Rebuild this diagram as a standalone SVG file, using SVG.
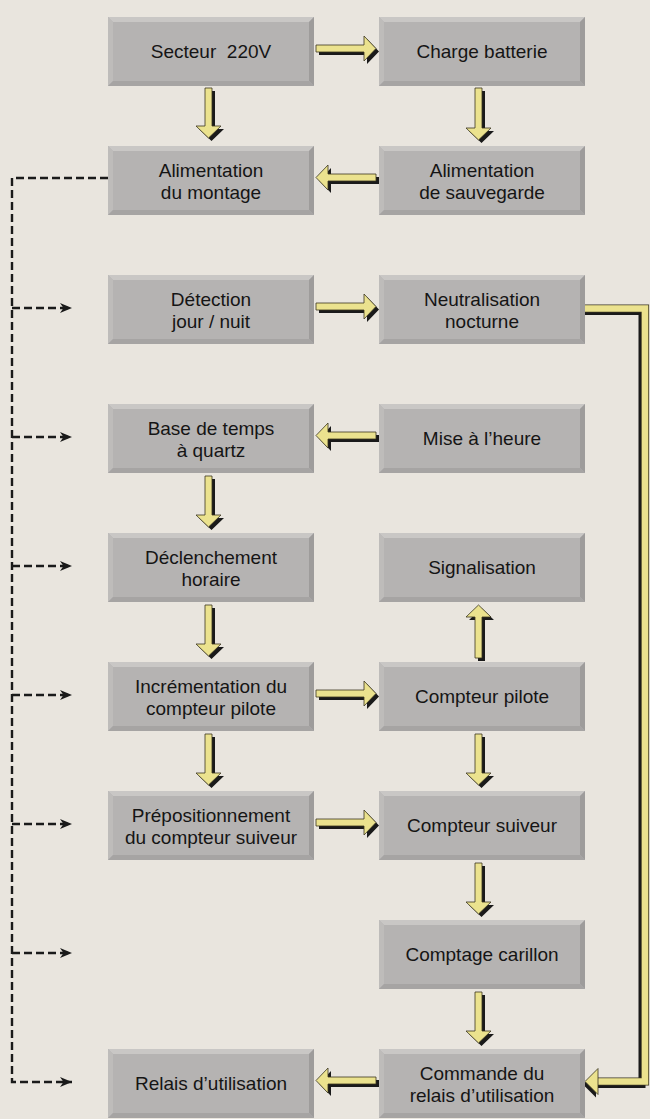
<svg xmlns="http://www.w3.org/2000/svg" xmlns:xlink="http://www.w3.org/1999/xlink" width="650" height="1119" viewBox="0 0 650 1119">
<style>
.t{font-family:"Liberation Sans",Arial,sans-serif;font-size:19px;fill:#151515;text-anchor:middle;white-space:pre}
.sh{fill:#1a1a1a}
.ar{fill:#ebe28e;stroke:#3a3520;stroke-width:0.8;stroke-linejoin:miter}
.dash{fill:none;stroke:#1a1a1a;stroke-width:2.4;stroke-dasharray:8 4}
</style>
<defs>
<marker id="dh" markerUnits="userSpaceOnUse" markerWidth="12" markerHeight="10" refX="12" refY="5" orient="auto">
<path d="M0,0 L12,5 L0,10 L3.5,5 Z" fill="#1a1a1a"/>
</marker>
<symbol id="box" viewBox="0 0 206 69" width="206" height="69">
<rect x="0" y="0" width="206" height="69" fill="#b5b3b2"/>
<polygon points="0,0 206,0 201,5 5,5" fill="#c9c7c5"/>
<polygon points="0,0 5,5 5,64 0,69" fill="#bebcba"/>
<polygon points="206,0 206,69 201,64 201,5" fill="#9e9c9b"/>
<polygon points="0,69 5,64 201,64 206,69" fill="#a6a4a3"/>
</symbol>
<polygon id="r1" points="316,45 364,45 364,36 376,48.5 364,61 364,52 316,52"/>
<polygon id="r3" points="316,303 364,303 364,294 376,306.5 364,319 364,310 316,310"/>
<polygon id="r6" points="316,690 364,690 364,681 376,693.5 364,706 364,697 316,697"/>
<polygon id="r7" points="316,819 364,819 364,810 376,822.5 364,835 364,826 316,826"/>
<polygon id="l2" points="376,174 328,174 328,165 316,177.5 328,190 328,181 376,181"/>
<polygon id="l4" points="376,432 328,432 328,423 316,435.5 328,448 328,439 376,439"/>
<polygon id="l9" points="376,1077 328,1077 328,1068 316,1080.5 328,1093 328,1084 376,1084"/>
<polygon id="d1" points="205,88 212,88 212,126 221,126 208.5,138 196,126 205,126"/>
<polygon id="d2" points="205,476 212,476 212,515 221,515 208.5,527 196,515 205,515"/>
<polygon id="d3" points="205,605 212,605 212,644 221,644 208.5,656 196,644 205,644"/>
<polygon id="d4" points="205,734 212,734 212,773 221,773 208.5,785 196,773 205,773"/>
<polygon id="d5" points="475,88 482,88 482,128 491,128 478.5,140 466,128 475,128"/>
<polygon id="d6" points="475,734 482,734 482,773 491,773 478.5,785 466,773 475,773"/>
<polygon id="d7" points="475,863 482,863 482,902 491,902 478.5,914 466,902 475,902"/>
<polygon id="d8" points="475,992 482,992 482,1031 491,1031 478.5,1043 466,1031 475,1031"/>
<polygon id="u1" points="475,658 482,658 482,617 491,617 478.5,605 466,617 475,617"/>
<polygon id="lh" points="585,1081.5 598,1068.5 598,1094.5"/>
</defs>
<rect x="0" y="0" width="650" height="1119" fill="#e9e5de"/>

<g id="connectors">
<g id="power-dashed">
<path class="dash" d="M108,178 H12 V1082 H72" marker-end="url(#dh)"/>
<path class="dash" d="M12,308 H72" marker-end="url(#dh)"/>
<path class="dash" d="M12,437 H72" marker-end="url(#dh)"/>
<path class="dash" d="M12,566 H72" marker-end="url(#dh)"/>
<path class="dash" d="M12,695 H72" marker-end="url(#dh)"/>
<path class="dash" d="M12,824 H72" marker-end="url(#dh)"/>
<path class="dash" d="M12,953 H72" marker-end="url(#dh)"/>
</g>
<g id="loop">
<path d="M585,311.5 H642 V1084.5 H598" fill="none" stroke="#1a1a1a" stroke-width="7" stroke-linejoin="miter"/>
<path d="M585,308.5 H645 V1081.5 H598" fill="none" stroke="#3a3520" stroke-width="8.2" stroke-linejoin="miter"/>
<path d="M585,308.5 H645 V1081.5 H597" fill="none" stroke="#ebe28e" stroke-width="6.6" stroke-linejoin="miter"/>
<use xlink:href="#lh" class="sh" transform="translate(-2,3)"/>
<use xlink:href="#lh" class="ar"/>
</g>
<g id="arrows">
<use xlink:href="#r1" class="sh" transform="translate(3,3)"/><use xlink:href="#r1" class="ar"/>
<use xlink:href="#r3" class="sh" transform="translate(3,3)"/><use xlink:href="#r3" class="ar"/>
<use xlink:href="#r6" class="sh" transform="translate(3,3)"/><use xlink:href="#r6" class="ar"/>
<use xlink:href="#r7" class="sh" transform="translate(3,3)"/><use xlink:href="#r7" class="ar"/>
<use xlink:href="#l2" class="sh" transform="translate(3,3)"/><use xlink:href="#l2" class="ar"/>
<use xlink:href="#l4" class="sh" transform="translate(3,3)"/><use xlink:href="#l4" class="ar"/>
<use xlink:href="#l9" class="sh" transform="translate(3,3)"/><use xlink:href="#l9" class="ar"/>
<use xlink:href="#d1" class="sh" transform="translate(3,3)"/><use xlink:href="#d1" class="ar"/>
<use xlink:href="#d2" class="sh" transform="translate(3,3)"/><use xlink:href="#d2" class="ar"/>
<use xlink:href="#d3" class="sh" transform="translate(3,3)"/><use xlink:href="#d3" class="ar"/>
<use xlink:href="#d4" class="sh" transform="translate(3,3)"/><use xlink:href="#d4" class="ar"/>
<use xlink:href="#d5" class="sh" transform="translate(3,3)"/><use xlink:href="#d5" class="ar"/>
<use xlink:href="#d6" class="sh" transform="translate(3,3)"/><use xlink:href="#d6" class="ar"/>
<use xlink:href="#d7" class="sh" transform="translate(3,3)"/><use xlink:href="#d7" class="ar"/>
<use xlink:href="#d8" class="sh" transform="translate(3,3)"/><use xlink:href="#d8" class="ar"/>
<use xlink:href="#u1" class="sh" transform="translate(3,3)"/><use xlink:href="#u1" class="ar"/>
</g>
</g>

<g id="secteur"><use xlink:href="#box" x="108" y="17"/><text class="t" x="211" y="58" xml:space="preserve">Secteur  220V</text></g>
<g id="charge"><use xlink:href="#box" x="379" y="17"/><text class="t" x="482" y="58">Charge batterie</text></g>
<g id="alim-montage"><use xlink:href="#box" x="108" y="146"/><text class="t" x="211" y="177">Alimentation</text><text class="t" x="211" y="199">du montage</text></g>
<g id="alim-sauvegarde"><use xlink:href="#box" x="379" y="146"/><text class="t" x="482" y="177">Alimentation</text><text class="t" x="482" y="199">de sauvegarde</text></g>
<g id="detection"><use xlink:href="#box" x="108" y="275"/><text class="t" x="211" y="306">Détection</text><text class="t" x="211" y="328">jour / nuit</text></g>
<g id="neutralisation"><use xlink:href="#box" x="379" y="275"/><text class="t" x="482" y="306">Neutralisation</text><text class="t" x="482" y="328">nocturne</text></g>
<g id="base-temps"><use xlink:href="#box" x="108" y="404"/><text class="t" x="211" y="435">Base de temps</text><text class="t" x="211" y="457">à quartz</text></g>
<g id="mise-heure"><use xlink:href="#box" x="379" y="404"/><text class="t" x="482" y="445">Mise à l’heure</text></g>
<g id="declenchement"><use xlink:href="#box" x="108" y="533"/><text class="t" x="211" y="564">Déclenchement</text><text class="t" x="211" y="586">horaire</text></g>
<g id="signalisation"><use xlink:href="#box" x="379" y="533"/><text class="t" x="482" y="574">Signalisation</text></g>
<g id="incrementation"><use xlink:href="#box" x="108" y="662"/><text class="t" x="211" y="693">Incrémentation du</text><text class="t" x="211" y="715">compteur pilote</text></g>
<g id="compteur-pilote"><use xlink:href="#box" x="379" y="662"/><text class="t" x="482" y="703">Compteur pilote</text></g>
<g id="prepositionnement"><use xlink:href="#box" x="108" y="791"/><text class="t" x="211" y="822">Prépositionnement</text><text class="t" x="211" y="844">du compteur suiveur</text></g>
<g id="compteur-suiveur"><use xlink:href="#box" x="379" y="791"/><text class="t" x="482" y="832">Compteur suiveur</text></g>
<g id="comptage-carillon"><use xlink:href="#box" x="379" y="920"/><text class="t" x="482" y="961">Comptage carillon</text></g>
<g id="relais"><use xlink:href="#box" x="108" y="1049"/><text class="t" x="211" y="1090">Relais d’utilisation</text></g>
<g id="commande-relais"><use xlink:href="#box" x="379" y="1049"/><text class="t" x="482" y="1080">Commande du</text><text class="t" x="482" y="1102">relais d’utilisation</text></g>
</svg>
